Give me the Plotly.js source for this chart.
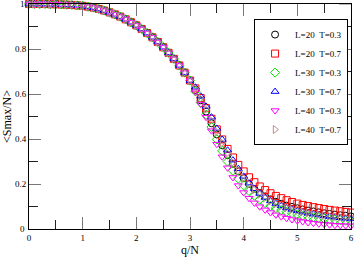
<!DOCTYPE html>
<html>
<head>
<meta charset="utf-8">
<script src="https://cdn.plot.ly/plotly-3.0.1.min.js"></script>
<style>html,body{margin:0;padding:0;background:#fff;}#chart{width:354px;height:257px;}</style>
</head>
<body>
<div id="chart"></div>
<script>
// q/N values, step 0.1 from 0 to 6
var qN = [0.0,0.1,0.2,0.3,0.4,0.5,0.6,0.7,0.8,0.9,1.0,1.1,1.2,1.3,1.4,1.5,1.6,1.7,1.8,1.9,2.0,
  2.1,2.2,2.3,2.4,2.5,2.6,2.7,2.8,2.9,3.0,3.1,3.2,3.3,3.4,3.5,3.6,3.7,3.8,3.9,4.0,
  4.1,4.2,4.3,4.4,4.5,4.6,4.7,4.8,4.9,5.0,5.1,5.2,5.3,5.4,5.5,5.6,5.7,5.8,5.9,6.0];

// shared part of all curves (q/N = 0 ... 3.0)
var head = [1.000,1.000,1.000,1.000,0.999,0.999,0.998,0.997,0.996,0.994,0.992,0.988,0.984,0.978,0.971,0.963,
  0.954,0.944,0.932,0.919,0.905,0.889,0.871,0.852,0.831,0.808,0.783,0.756,0.727,0.695,0.660];

// tails (q/N = 3.1 ... 6.0)
var L20T03 = [0.618,0.572,0.522,0.470,0.420,0.372,0.328,0.290,0.256,0.226,0.200,0.178,0.160,0.145,0.132,
  0.121,0.112,0.104,0.098,0.092,0.087,0.082,0.078,0.074,0.070,0.067,0.064,0.061,0.059,0.056];
var L20T07 = [0.625,0.582,0.537,0.490,0.443,0.398,0.356,0.318,0.285,0.256,0.230,0.208,0.189,0.173,0.159,
  0.147,0.137,0.128,0.120,0.113,0.107,0.102,0.097,0.093,0.089,0.085,0.082,0.079,0.076,0.073];
var L30T03 = [0.612,0.562,0.508,0.453,0.398,0.347,0.300,0.259,0.224,0.194,0.169,0.148,0.130,0.115,0.103,
  0.093,0.084,0.077,0.071,0.065,0.060,0.056,0.052,0.049,0.046,0.043,0.041,0.039,0.037,0.035];
var L30T07 = [0.630,0.590,0.545,0.497,0.447,0.398,0.350,0.306,0.268,0.234,0.204,0.179,0.158,0.140,0.125,
  0.113,0.103,0.094,0.087,0.081,0.075,0.070,0.066,0.062,0.058,0.055,0.052,0.050,0.047,0.045];
var L40T03 = [0.610,0.555,0.497,0.437,0.377,0.321,0.272,0.229,0.193,0.162,0.137,0.116,0.099,0.085,0.073,
  0.063,0.055,0.048,0.042,0.037,0.033,0.029,0.026,0.023,0.021,0.019,0.017,0.016,0.015,0.014];
var L40T07 = [0.624,0.580,0.532,0.482,0.432,0.383,0.337,0.296,0.259,0.227,0.199,0.175,0.155,0.138,0.124,
  0.112,0.102,0.094,0.087,0.081,0.076,0.071,0.067,0.063,0.060,0.057,0.054,0.052,0.050,0.048];

var yTickVals = [0.2, 0.4, 0.6, 0.8];
var yEndLabels = ['0', '1'];
var xTickVals = [0, 1, 2, 3, 4, 5, 6];

var names = ['L=20\u00a0\u00a0T=0.3','L=20\u00a0\u00a0T=0.7','L=30\u00a0\u00a0T=0.3','L=30\u00a0\u00a0T=0.7','L=40\u00a0\u00a0T=0.3','L=40\u00a0\u00a0T=0.7'];
var tails = [L20T03, L20T07, L30T03, L30T07, L40T03, L40T07];
var colors = ['#000000','#ff0000','#00dd00','#0000ff','#ff00ff','#bc8f8f'];
var symbols = ['circle-open','square-open','diamond-open','triangle-up-open','triangle-down-open','triangle-right-open'];

var traces = tails.map(function(t, i){
  return {
    x: qN, y: head.concat(t), type: 'scatter', mode: 'markers', name: names[i], cliponaxis: false,
    marker: {symbol: symbols[i], size: 7, color: colors[i], line: {width: 1, color: colors[i]}}
  };
});

var font = 'Liberation Serif, Times New Roman, serif';
var layout = {
  width: 354, height: 257,
  margin: {l: 29, r: 3, t: 4, b: 28},
  paper_bgcolor: '#fff', plot_bgcolor: '#fff',
  font: {family: font, size: 9, color: '#000'},
  showlegend: true,
  legend: {x: 0.699, y: 0.933, xanchor: 'left', yanchor: 'top', bgcolor: '#fff',
    bordercolor: '#000', borderwidth: 1, font: {family: font, size: 9}, itemwidth: 30,
    tracegroupgap: 0},
  xaxis: {range: [0, 6], tickmode: 'array', tickvals: xTickVals, ticks: 'inside', ticklen: 12, tickcolor: '#777', tickwidth: 1,
    showline: true, linecolor: '#000', linewidth: 1, mirror: 'ticks', showgrid: false, zeroline: false,
    minor: {dtick: 0.5, tick0: 0, ticks: 'inside', ticklen: 9, tickcolor: '#222', tickwidth: 1, showgrid: false},
    title: {text: 'q/N', font: {family: font, size: 12}, standoff: 2},
    tickfont: {family: font, size: 9}, ticklabeloverflow: 'allow'},
  yaxis: {range: [0, 1], tickmode: 'array', tickvals: yTickVals, ticks: 'inside', ticklen: 12, tickcolor: '#777', tickwidth: 1,
    showline: true, linecolor: '#000', linewidth: 1, mirror: 'ticks', showgrid: false, zeroline: false,
    minor: {dtick: 0.1, tick0: 0, ticks: 'inside', ticklen: 9, tickcolor: '#222', tickwidth: 1, showgrid: false},
    title: {text: '&lt;Smax/N&gt;', font: {family: font, size: 12}, standoff: 2},
    tickfont: {family: font, size: 9}, ticklabeloverflow: 'allow'},
  shapes: [
    {type: 'line', xref: 'paper', yref: 'y', x0: 0, x1: 12 / 322, y0: 1, y1: 1, line: {color: '#777', width: 1}},
    {type: 'line', xref: 'paper', yref: 'y', x0: 1, x1: 1 - 12 / 322, y0: 1, y1: 1, line: {color: '#777', width: 1}}
  ],
  annotations: [
    {text: yEndLabels[0], xref: 'paper', yref: 'y', x: 0, y: 0, xanchor: 'right', yanchor: 'middle',
      xshift: -2, showarrow: false, font: {family: font, size: 9}},
    {text: yEndLabels[1], xref: 'paper', yref: 'y', x: 0, y: 1, xanchor: 'right', yanchor: 'middle',
      xshift: -2, showarrow: false, font: {family: font, size: 9}}
  ]
};

Plotly.newPlot('chart', traces, layout, {displayModeBar: false, staticPlot: true});
</script>
</body>
</html>
